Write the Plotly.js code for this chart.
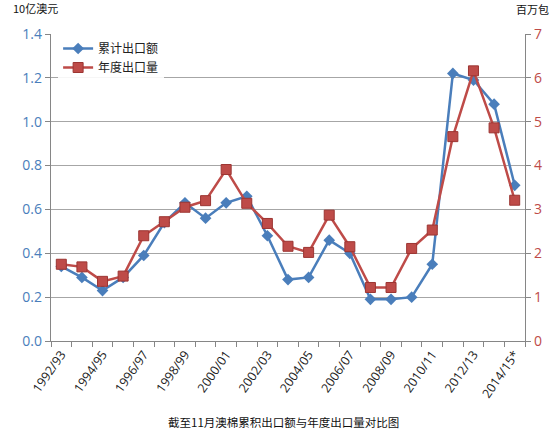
<!DOCTYPE html>
<html>
<head>
<meta charset="utf-8">
<script src="https://cdn.plot.ly/plotly-3.0.1.min.js"></script>
<style>
  html, body { margin: 0; padding: 0; background: #ffffff; }
  #chart { width: 559px; height: 436px; }
</style>
</head>
<body>
<div id="chart"></div>
<script>
// Seasons (category axis)
const seasons = [
    '1992/93', '1993/94', '1994/95', '1995/96', '1996/97', '1997/98',
    '1998/99', '1999/00', '2000/01', '2001/02', '2002/03', '2003/04',
    '2004/05', '2005/06', '2006/07', '2007/08', '2008/09', '2009/10',
    '2010/11', '2011/12', '2012/13', '2013/14', '2014/15*'
];

// Cumulative export value to November, billion AUD (left axis)
const exportValue = [
    0.34, 0.29, 0.23, 0.29, 0.39, 0.54, 0.63, 0.56, 0.63, 0.66, 0.48, 0.28,
    0.29, 0.46, 0.40, 0.19, 0.19, 0.20, 0.35, 1.22, 1.19, 1.08, 0.71
];

// Season export volume, million bales (right axis)
const exportVolume = [
    1.75, 1.69, 1.36, 1.48, 2.40, 2.72, 3.05, 3.20, 3.91, 3.14, 2.68, 2.16,
    2.02, 2.87, 2.15, 1.22, 1.22, 2.11, 2.53, 4.66, 6.16, 4.86, 3.21
];

const leftTicks = [0, 0.2, 0.4, 0.6, 0.8, 1.0, 1.2, 1.4];
const rightTicks = [0, 1, 2, 3, 4, 5, 6, 7];

const blue = '#4A7EBB';
const red = '#BE4B48';
const gridColor = '#A6A6A6';
const cjkFont = '"Noto Sans CJK SC", "Noto Sans", sans-serif';
const numFont = '"Open Sans", "Noto Sans", sans-serif';

const traces = [
    {
        x: seasons,
        y: exportValue,
        name: '累计出口额',
        type: 'scatter',
        mode: 'lines+markers',
        line: { color: blue, width: 2.5 },
        marker: { symbol: 'diamond', size: 9, color: blue }
    },
    {
        x: seasons,
        y: exportVolume,
        name: '年度出口量',
        type: 'scatter',
        mode: 'lines+markers',
        yaxis: 'y2',
        line: { color: red, width: 2.5 },
        marker: { symbol: 'square', size: 10, color: red, line: { color: '#9C3532', width: 1 } }
    }
];

const layout = {
    width: 559,
    height: 436,
    margin: { l: 51, r: 34, t: 34, b: 95 },
    paper_bgcolor: '#ffffff',
    plot_bgcolor: '#ffffff',
    showlegend: true,
    legend: {
        x: 0.015, y: 1.0,
        xanchor: 'left', yanchor: 'top',
        bgcolor: 'rgba(255,255,255,0.9)',
        font: { family: cjkFont, size: 12, color: '#222222' },
        tracegroupgap: 4
    },
    xaxis: {
        type: 'category',
        tickmode: 'array',
        tickvals: seasons,
        ticktext: seasons.map((s, i) => (i % 2 === 0 ? s : '')),
        tickson: 'boundaries',
        ticks: 'outside',
        ticklen: 5,
        tickcolor: '#868686',
        tickangle: -55,
        tickfont: { family: numFont, size: 12.5, color: '#222222' },
        showline: true,
        linecolor: '#868686',
        linewidth: 1.2,
        showgrid: false,
        zeroline: false,
        range: [-0.5, seasons.length - 0.5]
    },
    yaxis: {
        range: [0, 1.4],
        tickvals: leftTicks,
        tickformat: '.1f',
        ticks: 'outside',
        ticklen: 5,
        tickcolor: '#868686',
        tickfont: { family: numFont, size: 14, color: blue },
        showline: true,
        linecolor: '#868686',
        linewidth: 1.2,
        showgrid: true,
        gridcolor: gridColor,
        gridwidth: 1.2,
        zeroline: false
    },
    yaxis2: {
        overlaying: 'y',
        side: 'right',
        range: [0, 7],
        tickvals: rightTicks,
        ticks: 'outside',
        ticklen: 5,
        tickcolor: '#868686',
        tickfont: { family: numFont, size: 14, color: red },
        showline: true,
        linecolor: '#868686',
        linewidth: 1.2,
        showgrid: false,
        zeroline: false
    },
    annotations: [
        {
            text: '10亿澳元', xref: 'paper', yref: 'paper',
            x: -0.085, y: 1.085, xanchor: 'left', yanchor: 'middle',
            showarrow: false, font: { family: cjkFont, size: 11, color: '#111111' }
        },
        {
            text: '百万包', xref: 'paper', yref: 'paper',
            x: 1.055, y: 1.08, xanchor: 'right', yanchor: 'middle',
            showarrow: false, font: { family: cjkFont, size: 11, color: '#111111' }
        },
        {
            text: '截至11月澳棉累积出口额与年度出口量对比图', xref: 'paper', yref: 'paper',
            x: 0.49, y: -0.265, xanchor: 'center', yanchor: 'middle',
            showarrow: false, font: { family: cjkFont, size: 11.5, color: '#111111' }
        }
    ]
};

Plotly.newPlot('chart', traces, layout, { displayModeBar: false, staticPlot: true });
</script>
</body>
</html>
